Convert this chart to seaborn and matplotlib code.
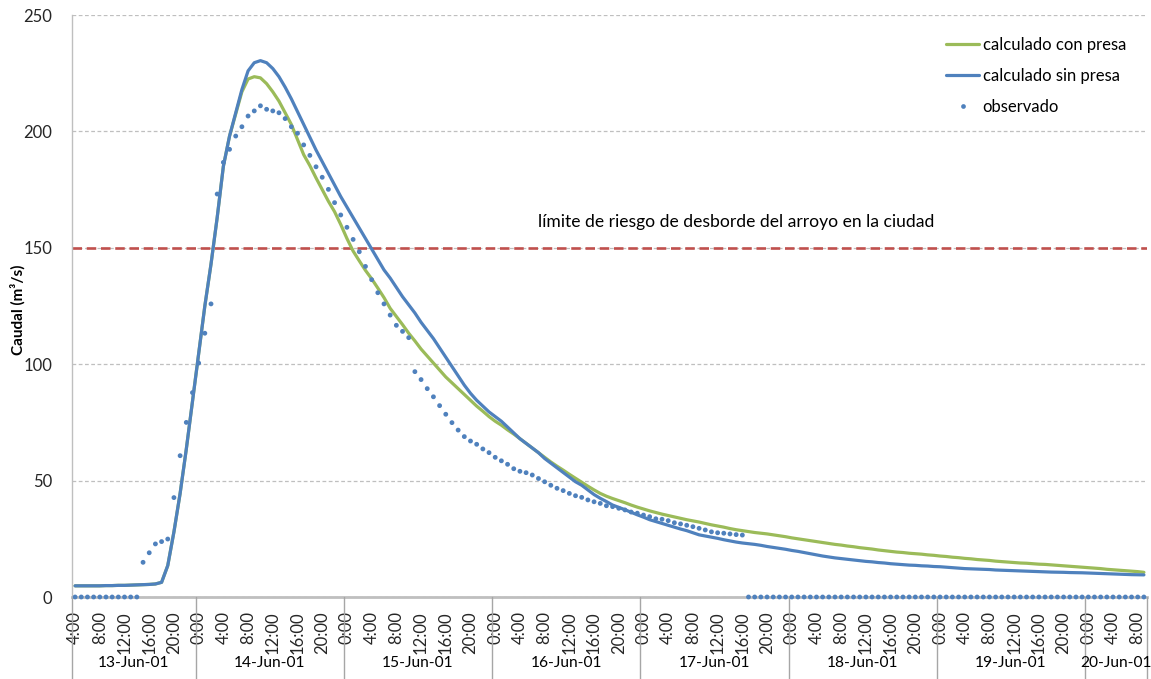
import numpy as np
import pandas as pd
import matplotlib
matplotlib.use("Agg")
import matplotlib.pyplot as plt
import matplotlib.transforms as mtransforms
from matplotlib.lines import Line2D
import seaborn as sns

# ---- data: hourly discharge (m3/s) from 13-Jun-2001 04:00 ----
start = "2001-06-13 04:00"
n_hours = 174

sin_presa = [
    4.8, 4.8, 4.8, 4.8, 4.8, 4.9, 4.9, 5.0, 5.0, 5.1,
    5.2, 5.3, 5.4, 5.6, 6.3, 13.5, 28.0, 44.5, 63.5, 84.0,
    104.5, 125.0, 143.0, 163.0, 185.0, 198.0, 208.0, 218.0, 226.0, 229.5,
    230.4, 229.5, 227.0, 223.5, 219.0, 214.0, 208.5, 203.0, 197.5, 192.0,
    187.0, 182.0, 177.0, 172.0, 167.5, 163.0, 158.5, 154.0, 149.5, 145.0,
    140.5, 137.0, 133.0, 129.0, 125.5, 122.0, 118.0, 114.5, 111.0, 107.0,
    103.0, 99.0, 95.0, 91.0, 87.5, 84.5, 82.0, 79.5, 77.5, 75.5,
    73.0, 70.5, 68.0, 66.0, 64.0, 62.0, 59.5, 57.5, 55.5, 53.5,
    51.5, 49.5, 48.0, 46.0, 44.0, 42.4, 41.0, 39.5, 38.5, 37.5,
    36.4, 35.3, 34.3, 33.2, 32.4, 31.6, 30.8, 30.0, 29.2, 28.5,
    27.6, 26.7, 26.2, 25.7, 25.2, 24.6, 24.1, 23.6, 23.2, 22.9,
    22.6, 22.2, 21.7, 21.3, 20.9, 20.5, 20.0, 19.6, 19.1, 18.6,
    18.1, 17.6, 17.2, 16.8, 16.5, 16.2, 15.9, 15.6, 15.3, 15.1,
    14.8, 14.6, 14.3, 14.1, 13.9, 13.7, 13.6, 13.4, 13.3, 13.1,
    13.0, 12.8, 12.6, 12.4, 12.2, 12.1, 12.0, 11.9, 11.8, 11.6,
    11.5, 11.4, 11.3, 11.2, 11.1, 11.0, 10.9, 10.8, 10.7, 10.65,
    10.6, 10.5, 10.45, 10.4, 10.3, 10.2, 10.1, 10.0, 9.9, 9.8,
    9.7, 9.6, 9.55, 9.5,
]

con_presa = [
    4.8, 4.8, 4.8, 4.8, 4.8, 4.9, 4.9, 5.0, 5.0, 5.1,
    5.2, 5.3, 5.4, 5.6, 6.3, 13.5, 28.0, 44.5, 63.5, 84.0,
    104.5, 125.0, 143.0, 163.0, 185.0, 198.0, 207.5, 217.0, 222.5, 223.5,
    223.0, 220.5, 217.0, 213.0, 208.0, 203.0, 196.5, 190.0, 185.3, 180.0,
    175.0, 170.0, 165.5, 160.0, 154.0, 148.6, 144.4, 140.3, 136.7, 132.7,
    128.6, 124.0, 120.5, 117.0, 113.3, 110.0, 106.5, 103.5, 100.5, 97.5,
    94.5, 92.0, 89.5, 87.0, 84.5, 82.0, 79.8, 77.5, 75.5, 73.8,
    71.8, 70.0, 68.0, 66.0, 64.0, 62.0, 60.0, 58.0, 56.2, 54.5,
    52.7, 51.0, 49.3, 47.6, 46.0, 44.5, 43.3, 42.3, 41.4, 40.5,
    39.5, 38.6, 37.8, 37.0, 36.3, 35.6, 35.0, 34.4, 33.8, 33.2,
    32.7, 32.2, 31.6, 31.0, 30.5, 30.0, 29.4, 28.9, 28.5, 28.1,
    27.7, 27.4, 27.1, 26.7, 26.3, 25.9, 25.4, 25.0, 24.6, 24.2,
    23.8, 23.4, 23.0, 22.6, 22.3, 21.9, 21.6, 21.2, 20.9, 20.6,
    20.2, 19.9, 19.6, 19.3, 19.1, 18.8, 18.6, 18.4, 18.1, 17.9,
    17.6, 17.4, 17.1, 16.9, 16.6, 16.4, 16.1, 15.9, 15.7, 15.4,
    15.2, 15.0, 14.8, 14.6, 14.5, 14.3, 14.1, 14.0, 13.8, 13.6,
    13.4, 13.2, 13.0, 12.8, 12.6, 12.4, 12.2, 11.9, 11.7, 11.5,
    11.3, 11.1, 10.9, 10.6,
]

observado = [
    0, 0, 0, 0, 0, 0, 0, 0, 0, 0,
    0, 14.9, 19.0, 22.8, 23.8, 24.9, 42.7, 60.7, 75.0, 87.8,
    100.5, 113.3, 125.9, 173.1, 186.7, 192.3, 198.0, 202.0, 206.6, 208.8,
    211.0, 209.5, 208.8, 208.0, 205.5, 202.0, 199.2, 194.2, 189.7, 184.8,
    180.3, 175.1, 169.4, 164.1, 158.8, 153.6, 148.3, 142.0, 136.3, 130.7,
    125.9, 121.1, 116.7, 114.1, 111.4, 96.8, 93.4, 89.5, 86.0, 82.2,
    78.5, 74.9, 71.7, 68.9, 67.0, 65.6, 63.6, 62.0, 60.0, 58.5,
    57.0, 55.1, 54.0, 53.4, 52.4, 50.9, 49.5, 48.0, 46.7, 45.7,
    44.5, 43.5, 42.8, 41.7, 40.9, 40.2, 39.2, 38.8, 38.1, 37.4,
    36.5, 36.0, 35.2, 34.5, 33.6, 33.4, 32.8, 31.9, 31.4, 30.8,
    30.2, 29.5, 28.8, 28.0, 27.6, 27.4, 27.1, 26.8, 26.6, 0,
    0, 0, 0, 0, 0, 0, 0, 0, 0, 0,
    0, 0, 0, 0, 0, 0, 0, 0, 0, 0,
    0, 0, 0, 0, 0, 0, 0, 0, 0, 0,
    0, 0, 0, 0, 0, 0, 0, 0, 0, 0,
    0, 0, 0, 0, 0, 0, 0, 0, 0, 0,
    0, 0, 0, 0, 0, 0, 0, 0, 0, 0,
    0, 0, 0, 0,
]

series_names = ["calculado con presa", "calculado sin presa", "observado"]
umbral = 150
umbral_texto = "límite de riesgo de desborde del arroyo en la ciudad"
y_label = "Caudal (m³/s)"
y_ticks = [0, 50, 100, 150, 200, 250]

# ---- styling ----
sns.set_style("white")
plt.rcParams["font.family"] = ["Lato", "DejaVu Sans"]
plt.rcParams["text.color"] = "#000000"

C_GREEN = "#9BBB59"
C_BLUE = "#4F81BD"
C_RED = "#C0504D"
C_GRID = "#BFBFBF"
C_SEP = "#A6A6A6"
FS = 12

times = pd.date_range(start, periods=n_hours, freq="h")
idx = np.arange(n_hours)
df = pd.DataFrame({"idx": idx, "con": con_presa, "sin": sin_presa, "obs": observado})

W, H = 1151, 679
fig = plt.figure(figsize=(W / 100, H / 100), dpi=100)
L, R, T, B = 72, 1147, 15, 597
ax = fig.add_axes([L / W, 1 - B / H, (R - L) / W, (B - T) / H])

# threshold line
ax.axhline(umbral, color=C_RED, lw=1.9, linestyle=(0, (3.6, 1.8)), zorder=2)

sns.lineplot(data=df, x="idx", y="con", color=C_GREEN, lw=2.3, ax=ax, zorder=3)
sns.lineplot(data=df, x="idx", y="sin", color=C_BLUE, lw=2.3, ax=ax, zorder=4)
sns.scatterplot(data=df, x="idx", y="obs", color=C_BLUE, s=12, marker="o",
                edgecolor="none", ax=ax, zorder=5, clip_on=False)

ax.set_xlim(-0.5, n_hours - 0.5)
ax.set_ylim(0, 250)
ax.set_yticks(y_ticks)
ax.set_yticklabels([str(v) for v in y_ticks], fontsize=FS)
ax.yaxis.grid(True, color=C_GRID, linestyle=(0, (3, 2)), lw=0.9)
ax.set_axisbelow(True)
ax.tick_params(axis="y", length=0, pad=14)
ax.set_xlabel("")
ax.set_ylabel("")

for s in ["top", "right"]:
    ax.spines[s].set_visible(False)
ax.spines["left"].set_color(C_GRID)
ax.spines["left"].set_linewidth(1.0)
ax.spines["bottom"].set_color(C_GRID)
ax.spines["bottom"].set_linewidth(2.0)
ax.spines["bottom"].set_zorder(1)

# hour labels every 4 hours
tick_pos = [i for i in idx if times[i].hour % 4 == 0]
ax.set_xticks(tick_pos)
ax.set_xticklabels([f"{times[i].hour}:00" for i in tick_pos], rotation=90,
                   fontsize=FS, va="top", ha="center")
ax.tick_params(axis="x", length=0, pad=10)

# day grouping: separators and centered labels
trans = mtransforms.blended_transform_factory(ax.transData, ax.transAxes)
bottom_ax = -(H - B) / (B - T)
day_starts = [i for i in idx if times[i].hour == 0]
bounds = [-0.5] + [d - 0.5 for d in day_starts] + [n_hours - 0.5]
for xb in bounds:
    ax.add_line(Line2D([xb, xb], [0, bottom_ax], transform=trans, color=C_SEP,
                       lw=1.0, clip_on=False))
day_y = -(663 - B) / (B - T)
for a, b in zip(bounds[:-1], bounds[1:]):
    day = times[int(np.ceil(a))]
    ax.text((a + b) / 2, day_y, day.strftime("%d-%b-%y"), transform=trans,
            ha="center", va="center", fontsize=11.2)

# threshold annotation
ax.text(107, 161, umbral_texto, ha="center", va="center", fontsize=12.6)

# y axis title
fig.text(18 / W, 1 - 310 / H, y_label, rotation=90, ha="center", va="center",
         fontsize=11, fontweight="bold")

# legend
handles = [
    Line2D([], [], color=C_GREEN, lw=2.3),
    Line2D([], [], color=C_BLUE, lw=2.3),
    Line2D([], [], color=C_BLUE, lw=0, marker="o", markersize=3.4,
           markeredgewidth=0),
]
ax.legend(handles, series_names, loc="upper left",
          bbox_to_anchor=(946 / W, 1 - 37 / H), bbox_transform=fig.transFigure,
          frameon=False, fontsize=FS, handlelength=2.0, handletextpad=0.2,
          labelspacing=0.9, borderpad=0, borderaxespad=0)

fig.savefig("out.png", dpi=100)
